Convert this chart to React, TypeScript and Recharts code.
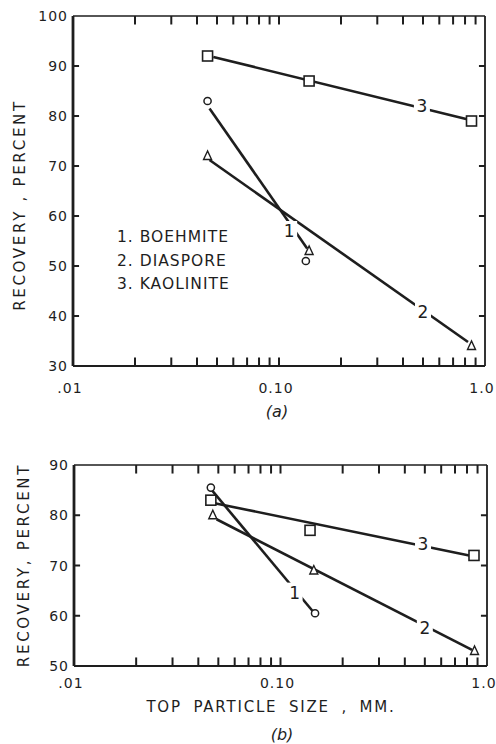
import React from 'react';
import { ComposedChart, Scatter, XAxis, YAxis } from 'recharts';

// x axis (log, both panels)
const majorTicks = [0.01, 0.1, 1];
const majorLabels = ['.01', '0.10', '1.0'];
const minorTicks = [0.02, 0.03, 0.04, 0.05, 0.06, 0.07, 0.08, 0.09, 0.2, 0.3, 0.4, 0.5, 0.6, 0.7, 0.8, 0.9];
const innerXTicks = [...minorTicks, 0.1];

// panel (a)
const yTicksA = [30, 40, 50, 60, 70, 80, 90, 100];
const boehmiteA = [{ x: 0.045, y: 83 }, { x: 0.135, y: 51 }];
const diasporeA = [{ x: 0.045, y: 72 }, { x: 0.14, y: 53 }, { x: 0.86, y: 34 }];
const kaoliniteA = [{ x: 0.045, y: 92 }, { x: 0.14, y: 87 }, { x: 0.86, y: 79 }];
const fit1A = [{ x: 0.046, y: 81.5 }, { x: 0.137, y: 53.5 }];
const fit2A = [{ x: 0.046, y: 71.2 }, { x: 0.827, y: 34.8 }];
const fit3A = [{ x: 0.048, y: 91.8 }, { x: 0.81, y: 79.4 }];
const tagsA = [
  { x: 0.112, y: 57, text: '1' },
  { x: 0.5, y: 40.8, text: '2' },
  { x: 0.494, y: 82, text: '3' },
];

// panel (b)
const yTicksB = [50, 60, 70, 80, 90];
const boehmiteB = [{ x: 0.046, y: 85.5 }, { x: 0.147, y: 60.5 }];
const diasporeB = [{ x: 0.047, y: 80 }, { x: 0.145, y: 69 }, { x: 0.87, y: 53 }];
const kaoliniteB = [{ x: 0.046, y: 83 }, { x: 0.139, y: 77 }, { x: 0.865, y: 72 }];
const fit1B = [{ x: 0.0465, y: 85 }, { x: 0.144, y: 60.8 }];
const fit2B = [{ x: 0.049, y: 79.2 }, { x: 0.846, y: 53.2 }];
const fit3B = [{ x: 0.048, y: 82.4 }, { x: 0.82, y: 72 }];
const tagsB = [
  { x: 0.117, y: 64.6, text: '1' },
  { x: 0.5, y: 57.6, text: '2' },
  { x: 0.49, y: 74.2, text: '3' },
];

const legendItems = ['1. BOEHMITE', '2. DIASPORE', '3. KAOLINITE'];

// inward tick length, in axis units (about 8px vertically, 6px horizontally)
const X_TICK_LEN = 1.7;
const Y_TICK_FACTOR = 1.07;

const INK = '#1e1e1e';
const FONT = '"DejaVu Sans", sans-serif';

const CircleMark = (p: any) => (
  <circle cx={p.cx} cy={p.cy} r={3.6} fill="#fff" stroke={INK} strokeWidth={1.5} />
);
const SquareMark = (p: any) => (
  <rect x={p.cx - 5} y={p.cy - 5} width={10} height={10} fill="#fff" stroke={INK} strokeWidth={1.6} />
);
const TriangleMark = (p: any) => (
  <polygon
    points={`${p.cx},${p.cy - 5} ${p.cx - 4},${p.cy + 3.5} ${p.cx + 4},${p.cy + 3.5}`}
    fill="#fff"
    stroke={INK}
    strokeWidth={1.4}
  />
);
const NoMark = () => <g />;

const tagShape = (text: string) => (p: any) => (
  <g>
    <rect x={p.cx - 8} y={p.cy - 10} width={16} height={20} fill="#fff" />
    <text x={p.cx} y={p.cy + 6} textAnchor="middle" fontSize={17} fill={INK} fontFamily={FONT}>
      {text}
    </text>
  </g>
);

const bottomLabel = (labelDy: number) => (p: any) => {
  const i = majorTicks.indexOf(p.payload.value);
  return (
    <text x={p.x - 3} y={p.y + labelDy} textAnchor="middle" fontSize={14} letterSpacing={1} fill={INK} fontFamily={FONT}>
      {i >= 0 ? majorLabels[i] : ''}
    </text>
  );
};

const leftLabel = (p: any) => (
  <text x={p.x - 5} y={p.y + 5} textAnchor="end" fontSize={14} letterSpacing={1} fill={INK} fontFamily={FONT}>
    {p.payload.value}
  </text>
);

interface PanelProps {
  height: number;
  margin: { top: number; right: number; bottom: number; left: number };
  yDomain: [number, number];
  yTicks: number[];
  labelDy: number;
  boehmite: { x: number; y: number }[];
  diaspore: { x: number; y: number }[];
  kaolinite: { x: number; y: number }[];
  fits: { x: number; y: number }[][];
  tags: { x: number; y: number; text: string }[];
}

const Panel = (props: PanelProps) => {
  const { yDomain, yTicks } = props;
  const [y0, y1] = yDomain;
  const innerY = yTicks.filter((v) => v !== y0 && v !== y1);
  const tickSegs = [
    ...innerXTicks.map((x) => [{ x, y: y0 }, { x, y: y0 + X_TICK_LEN }]),
    ...innerXTicks.map((x) => [{ x, y: y1 }, { x, y: y1 - X_TICK_LEN }]),
    ...innerY.map((y) => [{ x: 0.01, y }, { x: 0.01 * Y_TICK_FACTOR, y }]),
    ...innerY.map((y) => [{ x: 1, y }, { x: 1 / Y_TICK_FACTOR, y }]),
  ];
  return (
    <ComposedChart width={496} height={props.height} margin={props.margin}>
      <XAxis
        xAxisId="b"
        dataKey="x"
        type="number"
        scale="log"
        domain={[0.01, 1]}
        ticks={majorTicks}
        interval={0}
        allowDataOverflow
        height={1}
        tickSize={0}
        tickMargin={0}
        tickLine={false}
        axisLine={{ stroke: INK, strokeWidth: 2.2 }}
        tick={bottomLabel(props.labelDy)}
      />
      <XAxis
        xAxisId="t"
        orientation="top"
        type="number"
        scale="log"
        domain={[0.01, 1]}
        allowDataOverflow
        height={1}
        tickLine={false}
        tick={false}
        axisLine={{ stroke: INK, strokeWidth: 1.6 }}
      />
      <YAxis
        yAxisId="l"
        dataKey="y"
        type="number"
        domain={yDomain}
        ticks={yTicks}
        interval={0}
        allowDataOverflow
        width={1}
        tickSize={0}
        tickMargin={0}
        tickLine={false}
        axisLine={{ stroke: INK, strokeWidth: 2.8 }}
        tick={leftLabel}
      />
      <YAxis
        yAxisId="r"
        orientation="right"
        type="number"
        domain={yDomain}
        allowDataOverflow
        width={1}
        tickLine={false}
        tick={false}
        axisLine={{ stroke: INK, strokeWidth: 1.8 }}
      />
      {tickSegs.map((s, i) => (
        <Scatter
          key={'tick' + i}
          xAxisId="b"
          yAxisId="l"
          data={s}
          line={{ stroke: INK, strokeWidth: 2 }}
          shape={NoMark}
          isAnimationActive={false}
        />
      ))}
      {props.fits.map((f, i) => (
        <Scatter
          key={'fit' + i}
          xAxisId="b"
          yAxisId="l"
          data={f}
          line={{ stroke: INK, strokeWidth: 2.6 }}
          shape={NoMark}
          isAnimationActive={false}
        />
      ))}
      {props.tags.map((t, i) => (
        <Scatter
          key={'tag' + i}
          xAxisId="b"
          yAxisId="l"
          data={[{ x: t.x, y: t.y }]}
          shape={tagShape(t.text)}
          isAnimationActive={false}
        />
      ))}
      <Scatter xAxisId="b" yAxisId="l" data={props.boehmite} shape={CircleMark} isAnimationActive={false} />
      <Scatter xAxisId="b" yAxisId="l" data={props.diaspore} shape={TriangleMark} isAnimationActive={false} />
      <Scatter xAxisId="b" yAxisId="l" data={props.kaolinite} shape={SquareMark} isAnimationActive={false} />
    </ComposedChart>
  );
};

const textStyle: React.CSSProperties = {
  position: 'absolute',
  fontFamily: FONT,
  color: INK,
  whiteSpace: 'nowrap',
  lineHeight: 1,
};

const RotatedLabel = ({ cx, cy, text }: { cx: number; cy: number; text: string }) => (
  <div
    style={{
      ...textStyle,
      left: cx,
      top: cy,
      fontSize: 15,
      letterSpacing: 2.7,
      transform: 'translate(-50%, -50%) rotate(-90deg)',
    }}
  >
    {text}
  </div>
);

export default function App() {
  return (
    <div style={{ position: 'absolute', left: 0, top: 0, width: 496, height: 744, background: '#fff' }}>
      <div style={{ position: 'absolute', left: 0, top: 0 }}>
        <Panel
          height={420}
          margin={{ top: 15, right: 10, bottom: 53, left: 72 }}
          yDomain={[30, 100]}
          yTicks={yTicksA}
          labelDy={27}
          boehmite={boehmiteA}
          diaspore={diasporeA}
          kaolinite={kaoliniteA}
          fits={[fit1A, fit2A, fit3A]}
          tags={tagsA}
        />
      </div>
      <div style={{ position: 'absolute', left: 0, top: 420 }}>
        <Panel
          height={324}
          margin={{ top: 44, right: 8, bottom: 77, left: 73 }}
          yDomain={[50, 90]}
          yTicks={yTicksB}
          labelDy={22}
          boehmite={boehmiteB}
          diaspore={diasporeB}
          kaolinite={kaoliniteB}
          fits={[fit1B, fit2B, fit3B]}
          tags={tagsB}
        />
      </div>

      {legendItems.map((t, i) => (
        <div key={t} style={{ ...textStyle, left: 117, top: 230 + i * 23.5, fontSize: 15.5, letterSpacing: 1 }}>
          {t}
        </div>
      ))}

      <RotatedLabel cx={20} cy={205} text="RECOVERY , PERCENT" />
      <RotatedLabel cx={24} cy={565} text="RECOVERY, PERCENT" />

      <div style={{ ...textStyle, left: 271, top: 707, fontSize: 15, letterSpacing: 1.8, wordSpacing: 5, transform: 'translate(-50%, -50%)' }}>
        TOP PARTICLE SIZE , MM.
      </div>
      <div style={{ ...textStyle, left: 277, top: 412, fontSize: 16, fontStyle: 'italic', transform: 'translate(-50%, -50%)' }}>
        (a)
      </div>
      <div style={{ ...textStyle, left: 282, top: 735, fontSize: 16, fontStyle: 'italic', transform: 'translate(-50%, -50%)' }}>
        (b)
      </div>
    </div>
  );
}
